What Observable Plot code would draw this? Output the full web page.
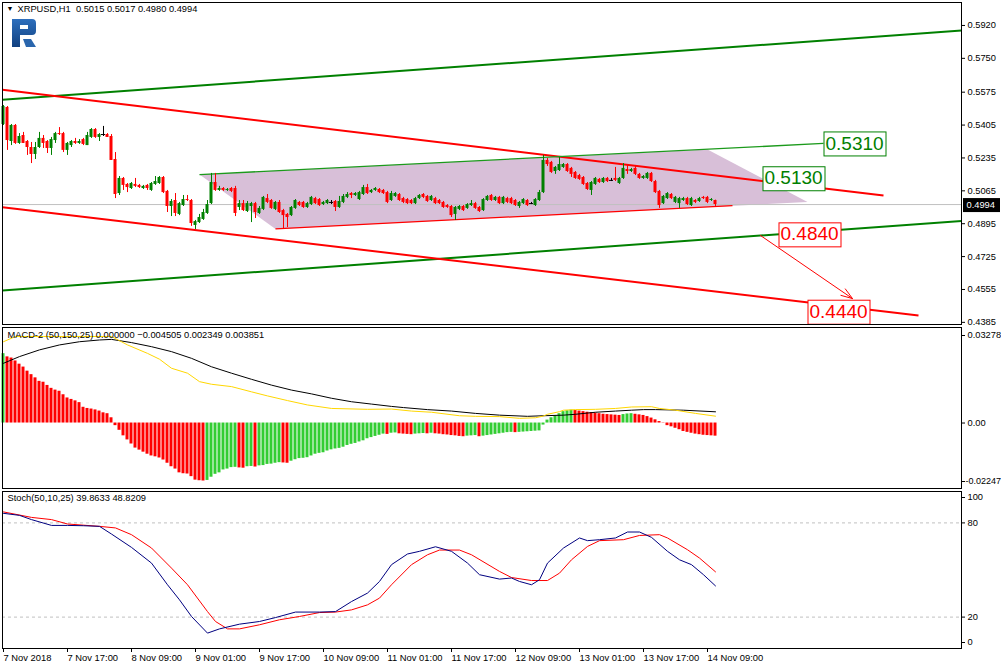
<!DOCTYPE html>
<html><head><meta charset="utf-8">
<script src="https://cdn.jsdelivr.net/npm/d3@7"></script>
<script src="https://cdn.jsdelivr.net/npm/@observablehq/plot@0.6"></script>
<style>
body{margin:0;background:#fff;}
#wrap{position:relative;width:1001px;height:670px;overflow:hidden;background:#fff;}
#wrap > div{line-height:0;}
svg{display:block;}
#logo{position:absolute;left:11px;top:18px;}
</style></head>
<body><div id="wrap"><div id="p1"></div><div id="p2"></div><div id="p3"></div>
<svg id="logo" width="26" height="30" viewBox="0 0 26 30">
<defs><linearGradient id="lg" x1="0" y1="0" x2="0" y2="1"><stop offset="0" stop-color="#2d6fbd"/><stop offset="1" stop-color="#11407f"/></linearGradient></defs>
<path fill="url(#lg)" fill-rule="evenodd" d="M1,1 H21 Q25,1 25,5 V13 Q25,17 21,17 H9 V29 H1 Z M9,7 H17 V11 H9 Z"/>
<path fill="#2a66ad" d="M12,21 H20 L25,29 H15 Z"/>
</svg>
</div>
<script>
// ---------- data ----------
const symbolTitle = "XRPUSD,H1";
const open = [
.5408,.5496,.5320,.5403,.5310,.5351,.5320,.5289,.5253,.5289,
.5336,.5320,.5284,.5325,.5361,.5361,.5274,.5299,.5320,.5310,
.5330,.5299,.5341,.5382,.5341,.5356,.5356,.5346,.5227,.5051,
.5129,.5098,.5077,.5098,.5093,.5077,.5093,.5067,.5098,.5103,
.5134,.5062,.4984,.5015,.4943,.4989,.5020,.5015,.4886,.4901,
.4917,.4948,.4999,.5108,.5067,.5077,.5067,.5077,.5077,.4979,
.4999,.4958,.4984,.4999,.4948,.4969,.5025,.5015,.4969,.5005,
.4963,.4943,.4937,.4974,.5005,.5005,.4979,.4994,.5025,.5020,
.4994,.4999,.5005,.5010,.4979,.5005,.5031,.5051,.5041,.5020,
.5046,.5082,.5056,.5067,.5072,.5067,.5056,.5015,.5036,.5046,
.5025,.5020,.5015,.4999,.5025,.5046,.5036,.5015,.5025,.5015,
.5005,.4989,.4984,.4943,.4969,.4984,.4974,.4989,.4999,.4979,
.4963,.5015,.5041,.5015,.5031,.4999,.5025,.5025,.5015,.4984,
.4999,.5015,.4999,.4989,.5015,.5056,.5222,.5212,.5165,.5170,
.5186,.5201,.5181,.5160,.5144,.5134,.5103,.5067,.5098,.5124,
.5108,.5129,.5119,.5129,.5103,.5129,.5175,.5165,.5181,.5150,
.5129,.5129,.5155,.5113,.5062,.4999,.5025,.5046,.5005,.4999,
.5015,.5025,.4989,.5015,.5010,.5031,.5031,.5015,.5015];
const high = [
.5506,.5501,.5408,.5408,.5361,.5367,.5325,.5315,.5315,.5367,
.5351,.5325,.5341,.5367,.5392,.5367,.5315,.5325,.5336,.5330,
.5336,.5367,.5387,.5387,.5361,.5398,.5361,.5356,.5263,.5139,
.5134,.5103,.5108,.5129,.5098,.5093,.5098,.5108,.5139,.5139,
.5139,.5067,.5020,.5051,.5005,.5041,.5041,.5020,.4912,.4943,
.4969,.5015,.5155,.5155,.5088,.5082,.5077,.5082,.5088,.5015,
.5015,.5010,.5005,.5005,.4984,.5036,.5046,.5020,.5010,.5015,
.4969,.4948,.4984,.5020,.5010,.5010,.5005,.5036,.5031,.5025,
.5010,.5020,.5015,.5015,.5036,.5046,.5056,.5056,.5056,.5062,
.5093,.5098,.5072,.5082,.5077,.5072,.5062,.5062,.5056,.5051,
.5031,.5025,.5020,.5031,.5046,.5051,.5041,.5041,.5031,.5020,
.5010,.4994,.4989,.4984,.4989,.4989,.4999,.5015,.5005,.4984,
.5025,.5041,.5046,.5036,.5036,.5036,.5031,.5031,.5020,.5010,
.5025,.5020,.5005,.5025,.5067,.5248,.5232,.5217,.5191,.5237,
.5206,.5206,.5186,.5165,.5150,.5139,.5108,.5113,.5134,.5129,
.5134,.5134,.5129,.5186,.5134,.5206,.5201,.5181,.5196,.5155,
.5144,.5160,.5160,.5119,.5067,.5041,.5056,.5051,.5036,.5031,
.5031,.5031,.5031,.5020,.5031,.5036,.5036,.5025,.5017];
const low = [
.5403,.5274,.5299,.5305,.5305,.5310,.5248,.5206,.5227,.5284,
.5284,.5258,.5248,.5310,.5351,.5263,.5248,.5289,.5305,.5305,
.5299,.5299,.5336,.5336,.5320,.5346,.5341,.5222,.5025,.5041,
.5067,.5056,.5072,.5082,.5077,.5072,.5067,.5062,.5093,.5098,
.5051,.4953,.4932,.4932,.4937,.4984,.5010,.4881,.4865,.4896,
.4912,.4943,.4994,.5062,.5062,.5062,.5062,.5056,.4932,.4963,
.4958,.4953,.4901,.4922,.4943,.4963,.4999,.4969,.4963,.4948,
.4870,.4875,.4932,.4969,.4984,.4974,.4974,.4989,.4994,.4984,
.4989,.4994,.4994,.4958,.4974,.4999,.5025,.5025,.5036,.5015,
.5041,.5046,.5051,.5062,.5051,.5046,.4999,.5010,.5031,.5010,
.4999,.4994,.4994,.4994,.5020,.5025,.5005,.5010,.4994,.4994,
.4974,.4974,.4927,.4912,.4963,.4958,.4969,.4984,.4969,.4953,
.4958,.5010,.5010,.5010,.4994,.4994,.4999,.4994,.4984,.4974,
.4994,.4984,.4994,.4984,.5010,.5051,.5191,.5155,.5150,.5165,
.5181,.5160,.5134,.5124,.5119,.5093,.5067,.5041,.5093,.5103,
.5103,.5108,.5113,.5113,.5098,.5124,.5150,.5160,.5144,.5124,
.5124,.5124,.5108,.5051,.4974,.4994,.5020,.5020,.4999,.4974,
.5010,.4989,.4984,.4999,.5005,.5020,.4999,.5010,.4980];
const close = [
.5501,.5325,.5403,.5310,.5346,.5310,.5289,.5253,.5289,.5336,
.5310,.5284,.5330,.5361,.5356,.5274,.5310,.5320,.5310,.5320,
.5305,.5351,.5382,.5341,.5356,.5356,.5341,.5222,.5046,.5129,
.5093,.5082,.5103,.5088,.5082,.5088,.5077,.5103,.5113,.5134,
.5056,.4984,.5010,.4948,.4999,.5020,.5015,.4896,.4906,.4927,
.4953,.4994,.5108,.5067,.5077,.5067,.5072,.5062,.4948,.4999,
.4963,.4999,.4999,.4953,.4974,.5031,.5005,.4974,.5005,.4953,
.4937,.4927,.4979,.5015,.4989,.4979,.4999,.5031,.4999,.4989,
.5005,.5015,.5005,.4979,.5010,.5036,.5046,.5041,.5051,.5056,
.5082,.5051,.5067,.5077,.5056,.5051,.5005,.5051,.5051,.5015,
.5005,.4999,.4999,.5025,.5041,.5031,.5010,.5036,.4999,.4999,
.4979,.4979,.4937,.4979,.4984,.4963,.4994,.4999,.4974,.4958,
.5020,.5036,.5015,.5031,.4999,.5031,.5005,.4999,.4989,.5005,
.5020,.4989,.4999,.5020,.5056,.5222,.5201,.5160,.5186,.5201,
.5201,.5165,.5150,.5129,.5124,.5098,.5072,.5108,.5129,.5108,
.5129,.5113,.5119,.5119,.5129,.5181,.5165,.5175,.5150,.5129,
.5139,.5155,.5113,.5056,.4989,.5036,.5051,.5025,.5031,.5025,
.5025,.4994,.5025,.5005,.5025,.5025,.5005,.5020,.4994];

const hist = [
.0238,.0227,.0223,.0213,.0202,.0192,.0178,.0166,.0155,.0143,
.0140,.0129,.0119,.0113,.0109,.0097,.0086,.0081,.0076,.0070,
.0054,.0050,.0048,.0045,.0041,.0035,.0032,.0018,-.0009,-.0025,
-.0044,-.0058,-.0072,-.0086,-.0093,-.0100,-.0107,-.0113,-.0116,-.0120,
-.0127,-.0138,-.0150,-.0158,-.0171,-.0174,-.0175,-.0184,-.0196,-.0198,
-.0199,-.0197,-.0186,-.0176,-.0171,-.0161,-.0158,-.0153,-.0152,-.0154,
-.0155,-.0150,-.0149,-.0151,-.0147,-.0146,-.0142,-.0141,-.0138,-.0136,
-.0137,-.0138,-.0131,-.0126,-.0122,-.0121,-.0119,-.0113,-.0107,-.0104,
-.0102,-.0096,-.0092,-.0089,-.0087,-.0083,-.0077,-.0073,-.0070,-.0065,
-.0061,-.0054,-.0050,-.0046,-.0042,-.0038,-.0039,-.0035,-.0034,-.0037,
-.0038,-.0039,-.0040,-.0038,-.0037,-.0036,-.0037,-.0035,-.0037,-.0038,
-.0040,-.0041,-.0043,-.0044,-.0046,-.0047,-.0045,-.0044,-.0043,-.0047,
-.0045,-.0043,-.0041,-.0039,-.0037,-.0035,-.0033,-.0032,-.0033,-.0032,
-.0031,-.0030,-.0029,-.0028,-.0027,-.0007,.0010,.0018,.0025,.0032,
.0039,.0042,.0044,.0043,.0041,.0039,.0037,.0036,.0034,.0032,
.0030,.0029,.0028,.0027,.0026,.0029,.0031,.0032,.0030,.0028,
.0026,.0022,.0017,.0011,.0005,.0001,-.0009,-.0013,-.0018,-.0023,
-.0029,-.0032,-.0035,-.0038,-.0040,-.0042,-.0043,-.0044,-.004505];
const macdIdx = [0,4,9,14,19,24,27,32,37,42,47,52,57,62,67,72,77,82,87,92,97,100,106,112,118,124,131,135,140,143,148,153,157,160,163,170,178];
const macdVal = [.0205,.0228,.0251,.0268,.0279,.0285,.0287,.0276,.0262,.0245,.0222,.0193,.0171,.0150,.0130,.0113,.0100,.0085,.0073,.0065,.0057,.0053,.0046,.0041,.0033,.0027,.0023,.0025,.0027,.0030,.0037,.0041,.0044,.0046,.0046,.0044,.003851];
const sigIdx = [0,3,10,20,27,31,36,39,42,46,49,52,57,62,66,71,76,82,91,97,102,107,114,118,124,129,133,135,136,139,140,143,148,153,157,162,164,168,173,178];
const sigVal = [.0279,.0297,.0297,.0297,.0297,.0268,.0239,.0219,.0188,.0171,.0142,.0133,.0125,.0107,.0093,.0077,.0062,.0050,.0047,.0048,.0041,.0037,.0025,.0023,.0022,.0016,.0018,.0024,.0030,.0039,.0044,.0046,.0047,.0050,.0055,.0056,.0050,.0044,.0033,.002349];

const kIdx = [0,4,7,12,16,20,24,27,32,37,41,44,47,51,54,59,64,68,73,79,83,87,91,94,97,101,104,108,112,116,119,124,127,129,132,134,136,140,144,146,149,153,156,159,162,166,169,172,175,178];
const kVal = [86.1,84.8,82.1,78.4,78.4,78.2,77.8,72.9,64.4,54.4,40.6,31,20.4,9.8,12.5,15.5,17.2,19.7,23.2,23.2,23.5,29.9,35.3,42.7,53.4,60.2,61.9,64.8,61.9,54.4,47,44.2,44.9,42.7,40.6,43.8,54.4,64,70.4,68.7,69.3,70.4,74.2,74.2,70.8,61.9,56.5,53.4,47,39.8633];
const dIdx = [0,7,12,16,24,28,32,37,42,46,51,53,56,59,64,69,74,79,83,87,91,94,97,102,106,109,114,117,124,127,132,136,139,142,146,149,155,159,164,166,171,174,178];
const dVal = [87,83.5,82.1,79.3,77.8,76.8,72.5,64,51.2,40.6,23.5,17.2,12.5,12.5,15.1,18.3,20.4,22.9,23.2,24.6,27.8,32.1,40.6,53.4,59.7,62.7,62.7,59.7,49.1,45.2,43.3,43.3,48,56.5,65,68.7,69.3,72,72.5,70.4,62.9,57.6,48.8209];

const priceTicks = [0.5920,0.5750,0.5575,0.5405,0.5235,0.5065,0.4895,0.4725,0.4555,0.4385];
const macdTicks = [0.03278, 0, -0.02247];
const macdTickLabels = ["0.03278","0.00","-0.02247"];
const stochTicks = [100, 80, 20, 0];
const stochLevels = [80, 20];
const timeTickIdx = [0,16,32,48,64,80,96,112,128,144,160,176];
const timeTickLabels = ["7 Nov 2018","7 Nov 17:00","8 Nov 09:00","9 Nov 01:00","9 Nov 17:00","10 Nov 09:00","11 Nov 01:00","11 Nov 17:00","12 Nov 09:00","13 Nov 01:00","13 Nov 17:00","14 Nov 09:00"];

// drawn objects (bar index, price)
const trendKind = ["green","green","red","red","greenThin","redThin"];
const trendI1 = [-0.25,-0.25,-0.25,-0.25,49,68];
const trendP1 = [0.5536,0.4550,0.5587,0.4980,0.5149,0.4868];
const trendI2 = [239.5,239.5,220,228.75,205,182.25];
const trendP2 = [0.5894,0.4909,0.5041,0.4420,0.5310,0.4989];
const zoneI = [49,176,201,68];
const zoneP = [0.5149,0.5279,0.5007,0.4868];
const levelValues = [0.5310,0.5130,0.4840,0.4440];
const levelStart = [205,189.75,193.75,201];
const levelSide = ["up","up","down","down"];
const arrowI = [189.25, 212.25];
const arrowP = [0.4834, 0.4508];

const xDomain = [-0.25, 239.5];
const priceDomain = [0.43739, 0.60387];
const macdDomain = [-0.02247, 0.03278];

// ---------- rendering ----------
const FONT = "'Liberation Sans', Arial, sans-serif";
const FS = 9.3;
const baseStyle = {fontFamily: FONT, fontSize: FS + "px", background: "white", color: "black", overflow: "visible"};
const GREEN = "#008000", RED = "#ff0000", LIME = "#32cd32";

const candles = close.map((c, i) => ({i, o: open[i], h: high[i], l: low[i], c}));
const cColor = d => d.c > d.o ? GREEN : d.c < d.o ? RED : "#000000";
const trends = trendKind.map((k, j) => ({k, x1: trendI1[j], y1: trendP1[j], x2: trendI2[j], y2: trendP2[j]}));
const trendStroke = {green: GREEN, red: RED, greenThin: "#1c9a1c", redThin: RED};
const trendWidth = {green: 2, red: 2, greenThin: 1.3, redThin: 1.3};
const zone = zoneI.map((x, j) => ({x, y: zoneP[j]}));
const levels = levelValues.map((v, j) => ({v, x: levelStart[j], side: levelSide[j], t: v.toFixed(4)}));
const levelTexts = new Set(levels.map(d => d.t));
const lastPrice = close[close.length - 1];
const f4 = d3.format(".4f");
const tagText = f4(lastPrice);
const title = `${symbolTitle}  ${f4(open.at(-1))} ${f4(high.at(-1))} ${f4(low.at(-1))} ${f4(lastPrice)}`;

const main = Plot.plot({
  width: 1001, height: 326, marginLeft: 2, marginRight: 40, marginTop: 2, marginBottom: 2,
  style: baseStyle,
  x: {domain: xDomain, axis: null},
  y: {domain: priceDomain, axis: null},
  color: {type: "identity"},
  marks: [
    Plot.line(zone, {x: "x", y: "y", fill: "#d8bfd8", stroke: "none"}),
    Plot.ruleY([lastPrice], {stroke: "#c0c0c0", strokeWidth: 1}),
    Plot.link(trends, {x1: "x1", y1: "y1", x2: "x2", y2: "y2", stroke: d => trendStroke[d.k], strokeWidth: d => trendWidth[d.k]}),
    Plot.ruleX(candles, {x: "i", y1: "l", y2: "h", stroke: cColor}),
    Plot.rect(candles.filter(d => d.c !== d.o), {x1: d => d.i - 0.375, x2: d => d.i + 0.375, y1: "o", y2: "c", fill: cColor}),
    Plot.ruleY(candles.filter(d => d.c === d.o), {y: "c", x1: d => d.i - 0.5, x2: d => d.i + 0.5, stroke: "#000"}),
    Plot.arrow([{x1: arrowI[0], y1: arrowP[0], x2: arrowI[1], y2: arrowP[1]}], {x1: "x1", y1: "y1", x2: "x2", y2: "y2", stroke: RED, strokeWidth: 1, headLength: 18, headAngle: 38}),
    Plot.text(levels, {x: "x", y: "v", text: "t", textAnchor: "start", lineAnchor: "middle", dx: 2, fontSize: 19, fill: d => d.side === "up" ? GREEN : RED}),
    Plot.axisY({anchor: "right", ticks: priceTicks, tickFormat: f4, tickSize: 3, tickPadding: 3, label: null}),
    Plot.text([lastPrice], {y: d => d, text: d => f4(d), frameAnchor: "right", dx: 5, textAnchor: "start", fill: "white"}),
    Plot.frame({stroke: "black"}),
    Plot.text(["▼"], {frameAnchor: "top-left", dx: 4, dy: 4, lineAnchor: "top", fontSize: 7}),
    Plot.text([title], {frameAnchor: "top-left", dx: 15, dy: 3, lineAnchor: "top", textAnchor: "start"})
  ]
});

const histData = hist.map((v, i) => ({i, v, up: i === 0 || v > hist[i - 1]}));
const macdLine = macdIdx.map((x, j) => ({x, y: macdVal[j]}));
const sigLine = sigIdx.map((x, j) => ({x, y: sigVal[j]}));
const f6 = d3.format(".6f");
const macdTitle = `MACD-2 (50,150,25) ${f6(0)} ${f6(hist.at(-1))} ${f6(sigVal.at(-1))} ${f6(macdVal.at(-1))}`;
const macdOffsets = [8, 0, -7];
const macdPad = [3, 3, 1];
const macdFs = [FS, FS, 9];

const macd = Plot.plot({
  width: 1001, height: 163, marginLeft: 2, marginRight: 40, marginTop: 1, marginBottom: 1,
  style: baseStyle,
  x: {domain: xDomain, axis: null},
  y: {domain: macdDomain, axis: null},
  color: {type: "identity"},
  marks: [
    Plot.rect(histData, {x1: d => d.i - 0.375, x2: d => d.i + 0.375, y1: 0, y2: "v", fill: d => d.up ? LIME : RED}),
    Plot.line(macdLine, {x: "x", y: "y", stroke: "black", strokeWidth: 1}),
    Plot.line(sigLine, {x: "x", y: "y", stroke: "#ffd700", strokeWidth: 1}),
    ...macdTicks.map((t, j) => Plot.axisY({anchor: "right", ticks: [t], tickFormat: () => macdTickLabels[j], tickSize: 3, tickPadding: macdPad[j], dy: macdOffsets[j], fontSize: macdFs[j], label: null})),
    Plot.frame({stroke: "black"}),
    Plot.text([macdTitle], {frameAnchor: "top-left", dx: 5, dy: 3.5, lineAnchor: "top", textAnchor: "start"})
  ]
});

const kLine = kIdx.map((x, j) => ({x, y: kVal[j]}));
const dLine = dIdx.map((x, j) => ({x, y: dVal[j]}));
const stochTitle = `Stoch(50,10,25) ${kVal.at(-1).toFixed(4)} ${dVal.at(-1).toFixed(4)}`;
const stochOffsets = {100: 6, 80: 0, 20: 0, 0: -6};

const stoch = Plot.plot({
  width: 1001, height: 181, marginLeft: 2, marginRight: 40, marginTop: 2, marginBottom: 22,
  style: baseStyle,
  x: {domain: xDomain, axis: null},
  y: {domain: [0, 100], axis: null},
  color: {type: "identity"},
  marks: [
    Plot.ruleY(stochLevels, {stroke: "#c0c0c0", strokeDasharray: "3,3"}),
    Plot.line(dLine, {x: "x", y: "y", stroke: RED, strokeWidth: 1}),
    Plot.line(kLine, {x: "x", y: "y", stroke: "#000080", strokeWidth: 1}),
    ...stochTicks.map(t => Plot.axisY({anchor: "right", ticks: [t], tickFormat: d => String(d), tickSize: 3, tickPadding: 3, dy: stochOffsets[t], label: null})),
    Plot.axisX({anchor: "bottom", ticks: timeTickIdx, tickFormat: d => timeTickLabels[timeTickIdx.indexOf(d)], textAnchor: "start", tickSize: 4, tickPadding: 2, fontSize: 9.4, label: null}),
    Plot.frame({stroke: "black"}),
    Plot.text([stochTitle], {frameAnchor: "top-left", dx: 5, dy: 3, lineAnchor: "top", textAnchor: "start"})
  ]
});

document.getElementById("p1").appendChild(main);
document.getElementById("p2").appendChild(macd);
document.getElementById("p3").appendChild(stoch);

// boxes behind labels (sized from the rendered text)
function addBox(t, padL, padR, padT, padB, fill, stroke) {
  const b = t.getBBox();
  const r = document.createElementNS("http://www.w3.org/2000/svg", "rect");
  const x0 = Math.floor(b.x - padL) + 0.5, y0 = Math.floor(b.y - padT) + 0.5;
  const x1 = Math.ceil(b.x + b.width + padR) + 0.5, y1 = Math.ceil(b.y + b.height + padB) + 0.5;
  r.setAttribute("x", x0); r.setAttribute("y", y0);
  r.setAttribute("width", x1 - x0); r.setAttribute("height", y1 - y0);
  r.setAttribute("fill", fill);
  if (stroke) { r.setAttribute("stroke", stroke); r.setAttribute("stroke-width", "1"); }
  else r.setAttribute("stroke", "none");
  const tr = t.getAttribute("transform");
  if (tr) r.setAttribute("transform", tr);
  t.parentNode.insertBefore(r, t);
}
main.querySelectorAll("text").forEach(t => {
  const s = t.textContent;
  const fillAttr = t.getAttribute("fill") || (t.parentNode && t.parentNode.getAttribute("fill")) || "";
  if (levelTexts.has(s) && fillAttr !== "white") {
    addBox(t, 2, 1.5, 1, 1, "white", fillAttr || getComputedStyle(t).fill);
  } else if (s === tagText && fillAttr === "white") {
    addBox(t, 4, 4, 1.5, 1.5, "black", null);
  }
});
</script></body></html>
